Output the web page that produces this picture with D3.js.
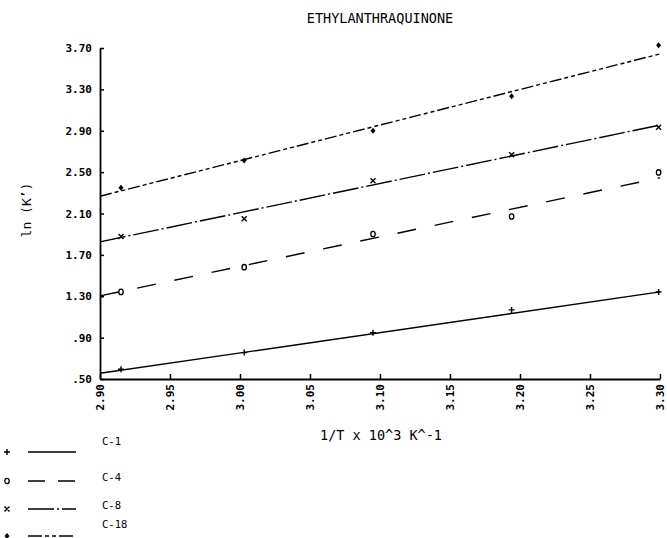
<!DOCTYPE html>
<html>
<head>
<meta charset="utf-8">
<script src="https://cdn.jsdelivr.net/npm/d3@7"></script>
<style>
  html, body { margin: 0; padding: 0; background: #fff; }
  svg { display: block; }
  text { fill: #000; }
</style>
</head>
<body>
<svg id="chart" width="667" height="538"></svg>
<script>
// ---- data ----
const xValues = [2.915, 3.003, 3.095, 3.194, 3.299];
const c1Values  = [0.594, 0.755, 0.948, 1.168, 1.342];
const c4Values  = [1.342, 1.581, 1.901, 2.071, 2.497];
const c8Values  = [1.878, 2.049, 2.417, 2.669, 2.933];
const c18Values = [2.349, 2.613, 2.901, 3.233, 3.727];

const fitX = [2.90, 3.30];
const c1Fit  = [0.555, 1.342];
const c4Fit  = [1.303, 2.445];
const c8Fit  = [1.826, 2.955];
const c18Fit = [2.267, 3.643];

const seriesNames = ["C-1", "C-4", "C-8", "C-18"];
const yTicks = [0.5, 0.9, 1.3, 1.7, 2.1, 2.5, 2.9, 3.3, 3.7];
const yTickLabels = [".50", ".90", "1.30", "1.70", "2.10", "2.50", "2.90", "3.30", "3.70"];
const xTicks = [2.90, 2.95, 3.00, 3.05, 3.10, 3.15, 3.20, 3.25, 3.30];
const xTickLabels = ["2.90", "2.95", "3.00", "3.05", "3.10", "3.15", "3.20", "3.25", "3.30"];

const title = "ETHYLANTHRAQUINONE";
const xTitle = "1/T x 10^3 K^-1";
const yTitle = "ln (K\u2019)";

// ---- styling ----
const styles = {
  "C-1":  { marker: "plus",    dash: null },
  "C-4":  { marker: "circle",  dash: "19,19" },
  "C-8":  { marker: "cross",   dash: "26,3,2,3" },
  "C-18": { marker: "diamond", dash: "12,3,4,3,4,3" }
};
const legendDash = {
  "C-1": null,
  "C-4": "17,13",
  "C-8": "26,3,2,3",
  "C-18": "14,3,4,3,4,3"
};

const series = [
  { name: "C-1",  pts: c1Values,  fit: c1Fit },
  { name: "C-4",  pts: c4Values,  fit: c4Fit },
  { name: "C-8",  pts: c8Values,  fit: c8Fit },
  { name: "C-18", pts: c18Values, fit: c18Fit }
];

const svg = d3.select("#chart");
const mono = "'DejaVu Sans Mono', monospace";

const x = d3.scaleLinear().domain([2.90, 3.30]).range([100, 660]);
const y = d3.scaleLinear().domain([0.5, 3.7]).range([379, 48]);

// Title
svg.append("text")
  .attr("x", 380).attr("y", 23)
  .attr("text-anchor", "middle")
  .style("font-family", mono).style("font-size", "13.5px")
  .text(title);

// Y axis
const yAxis = d3.axisLeft(y)
  .tickValues(yTicks)
  .tickFormat((d, i) => yTickLabels[i])
  .tickSizeInner(-4).tickSizeOuter(0).tickPadding(12);
const gy = svg.append("g").attr("transform", "translate(100,0)").call(yAxis);
gy.select(".domain").attr("stroke", "#000").attr("stroke-width", 1.8);
gy.selectAll(".tick line").attr("stroke", "#000").attr("stroke-width", 1.5);
gy.selectAll(".tick text")
  .style("font-family", mono).style("font-size", "11px").style("font-weight", "bold")
  .attr("x", -8);

// X axis
const xAxis = d3.axisBottom(x)
  .tickValues(xTicks)
  .tickFormat((d, i) => xTickLabels[i])
  .tickSizeInner(-5).tickSizeOuter(0);
const gx = svg.append("g").attr("transform", "translate(0,379)").call(xAxis);
gx.select(".domain").attr("stroke", "#000").attr("stroke-width", 1.8);
gx.selectAll(".tick line").attr("stroke", "#000").attr("stroke-width", 1.5);
gx.selectAll(".tick text")
  .style("font-family", mono).style("font-size", "11px").style("font-weight", "bold")
  .attr("text-anchor", "end")
  .attr("transform", "rotate(-90)")
  .attr("x", -5).attr("y", 0).attr("dy", "0.35em");

// Axis titles
svg.append("text")
  .attr("x", 381).attr("y", 440)
  .attr("text-anchor", "middle")
  .style("font-family", mono).style("font-size", "13.5px")
  .text(xTitle);

svg.append("text")
  .attr("transform", "translate(31,210) rotate(-90)")
  .attr("text-anchor", "middle")
  .style("font-family", mono).style("font-size", "13px")
  .text(yTitle);

// Marker drawing
function marker(g, type, cx, cy) {
  if (type === "plus") {
    g.append("path")
      .attr("d", `M${cx-3},${cy}H${cx+3}M${cx},${cy-3}V${cy+3}`)
      .attr("stroke", "#000").attr("stroke-width", 1.4).attr("fill", "none");
  } else if (type === "circle") {
    g.append("ellipse").attr("cx", cx).attr("cy", cy).attr("rx", 2.2).attr("ry", 2.7)
      .attr("stroke", "#000").attr("stroke-width", 1.3).attr("fill", "none");
  } else if (type === "cross") {
    g.append("path")
      .attr("d", `M${cx-2.5},${cy-2.5}L${cx+2.5},${cy+2.5}M${cx+2.5},${cy-2.5}L${cx-2.5},${cy+2.5}`)
      .attr("stroke", "#000").attr("stroke-width", 1.4).attr("fill", "none");
  } else if (type === "diamond") {
    g.append("path")
      .attr("d", `M${cx},${cy-3}L${cx+2.5},${cy}L${cx},${cy+3}L${cx-2.5},${cy}Z`)
      .attr("fill", "#000");
  }
}

// Series
const line = d3.line().x(d => x(d[0])).y(d => y(d[1]));
const plot = svg.append("g");
series.forEach(s => {
  const st = styles[s.name];
  plot.append("path")
    .datum(fitX.map((fx, i) => [fx, s.fit[i]]))
    .attr("d", line)
    .attr("fill", "none")
    .attr("stroke", "#000")
    .attr("stroke-width", 1.4)
    .attr("stroke-dasharray", st.dash);
  s.pts.forEach((v, i) => marker(plot, st.marker, x(xValues[i]), y(v)));
});

// Legend
const legendLineY = [452, 481, 509, 536];
const legendTextY = [445, 481, 509, 528];
const lg = svg.append("g");
seriesNames.forEach((name, i) => {
  const st = styles[name];
  marker(lg, st.marker, 7, legendLineY[i]);
  lg.append("line")
    .attr("x1", 28).attr("x2", 76)
    .attr("y1", legendLineY[i]).attr("y2", legendLineY[i])
    .attr("stroke", "#000").attr("stroke-width", 1.4)
    .attr("stroke-dasharray", legendDash[name]);
  lg.append("text")
    .attr("x", 102).attr("y", legendTextY[i])
    .style("font-family", mono).style("font-size", "10.5px")
    .text(name);
});
</script>
</body>
</html>
